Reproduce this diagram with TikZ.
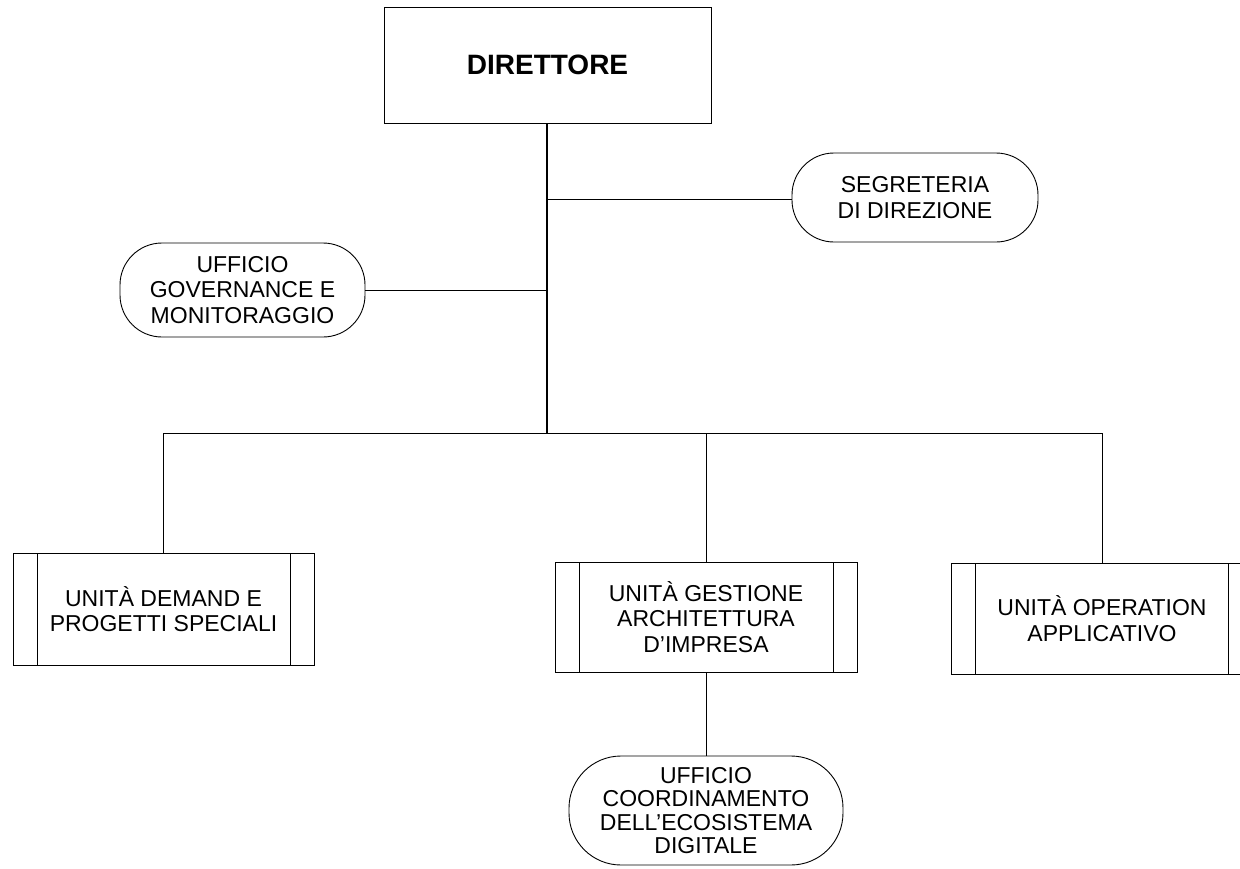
\documentclass[tikz,border=0pt]{standalone}
\usepackage{fontspec}
\setmainfont{Liberation Sans}
\usetikzlibrary{calc}
\begin{document}
\begin{tikzpicture}[x=1pt,y=-1pt,
  line/.style={draw=black, line width=0.9pt},
  txt/.style={align=center, font=\fontsize{23}{25.5}\selectfont, inner sep=0pt},
  topbox/.style={line, minimum width=327pt, minimum height=116pt, inner sep=0pt, font=\fontsize{28}{30}\selectfont\bfseries},
  stad/.style={line, txt, rounded corners=42pt},
  subbox/.style={line, txt, minimum width=301pt, minimum height=111pt,
    path picture={
      \draw[line width=0.9pt] ([xshift=24pt]path picture bounding box.north west) -- ([xshift=24pt]path picture bounding box.south west);
      \draw[line width=0.9pt] ([xshift=-24pt]path picture bounding box.north east) -- ([xshift=-24pt]path picture bounding box.south east);}},
  mainline/.style={draw=black, line width=1.6pt}
]
\useasboundingbox (0,0) rectangle (1240,868);
\begin{scope}
\clip (0,0) rectangle (1240,868);
\node[topbox] (dir) at (547.5,65) {DIRETTORE};
\node[stad, minimum width=246pt, minimum height=89pt] (seg) at (915,197.5) {SEGRETERIA\\DI DIREZIONE};
\node[stad, minimum width=245pt, minimum height=94pt] (gov) at (242.5,290) {UFFICIO\\GOVERNANCE E\\MONITORAGGIO};
\node[subbox, minimum height=112pt] (dem) at (163.5,609) {UNITÀ DEMAND E\\PROGETTI SPECIALI};
\node[subbox, minimum width=302pt, minimum height=110pt] (ges) at (706,617) {UNITÀ GESTIONE\\ARCHITETTURA\\D’IMPRESA};
\node[subbox] (ope) at (1102,618.5) {UNITÀ OPERATION\\APPLICATIVO};
\node[stad, minimum width=274pt, minimum height=109pt, rounded corners=52pt, font=\fontsize{23}{23.5}\selectfont] (coo) at (706,810.5) {UFFICIO\\COORDINAMENTO\\DELL’ECOSISTEMA\\DIGITALE};

\coordinate (j) at (547,433);
\coordinate (jseg) at (547,199);
\coordinate (jgov) at (547,290);

\draw[mainline] (dir.south -| j) -- (j);
\draw[line] (jseg) -- (seg.west |- jseg);
\draw[line] (gov.east |- jgov) -- (jgov);
\draw[line] (j) -| (dem.north);
\draw[line] (j) -| (ges.north);
\draw[line] (j) -| (ope.north);
\draw[line] (ges.south) -- (coo.north);
\end{scope}
\end{tikzpicture}
\end{document}
